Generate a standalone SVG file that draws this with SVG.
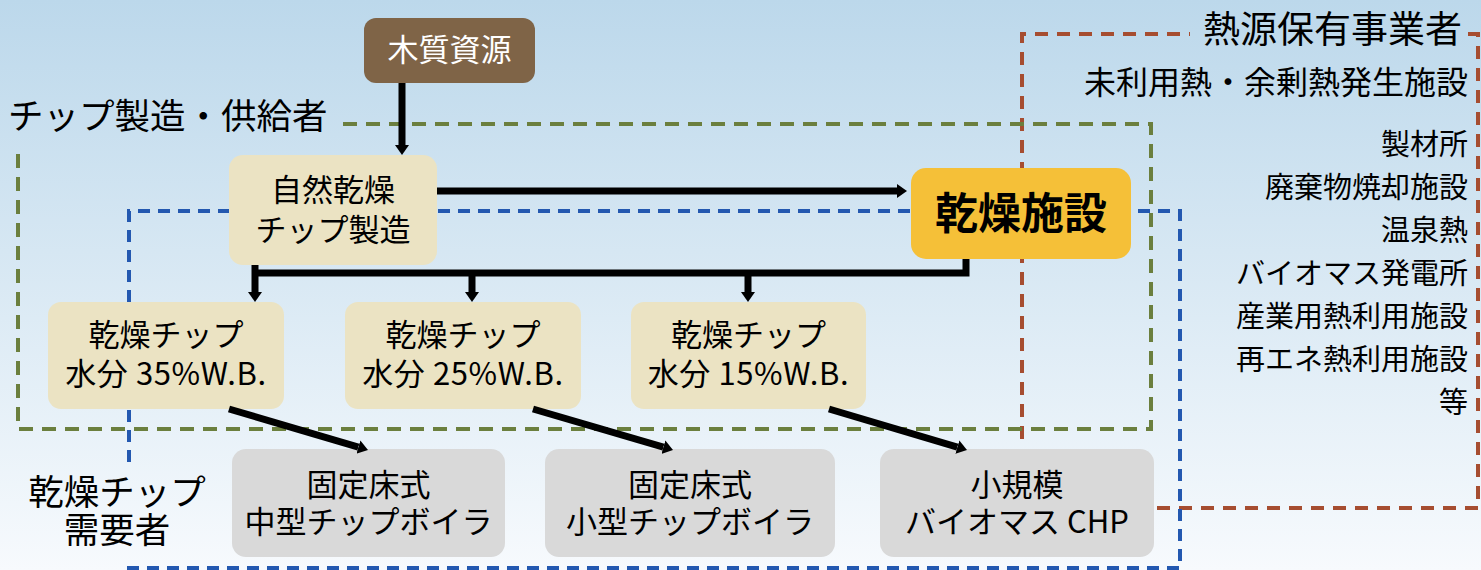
<svg xmlns="http://www.w3.org/2000/svg" width="1481" height="570" viewBox="0 0 1481 570">
<defs>
<linearGradient id="bg" x1="0" y1="0" x2="0" y2="1">
<stop offset="0" stop-color="#bcd8eb"/>
<stop offset="1" stop-color="#f7fafd"/>
</linearGradient>
<marker id="ah" viewBox="0 0 10 14" refX="0" refY="7" markerWidth="10" markerHeight="14" markerUnits="userSpaceOnUse" orient="auto">
<path d="M0,0 L10,7 L0,14 z" fill="#000"/>
</marker>
<style>
text{font-family:"Noto Sans CJK JP","Noto Sans",sans-serif;fill:#000}
.t30{font-size:31px;text-anchor:middle}
.wb{letter-spacing:0.6px}
.lab{font-size:35.5px}
.r{text-anchor:end}
.list{font-size:29px;text-anchor:end}
.beige{fill:#ebe3c3}
.gray{fill:#d9d9d9}
.conn{stroke:#000;stroke-width:7;fill:none}
.arr{marker-end:url(#ah)}
.dg{stroke:#6b7f3e;stroke-width:4;fill:none;stroke-dasharray:14 9}
.db{stroke:#2358b0;stroke-width:4;fill:none;stroke-dasharray:12 8}
.dr{stroke:#a64d30;stroke-width:4;fill:none;stroke-dasharray:13 9}
</style>
</defs>
<rect x="0" y="0" width="1481" height="570" fill="url(#bg)"/>

<g id="regions">
<path class="dr" d="M1022,439 V34 H1190"/>
<path class="dr" d="M1468,34 H1478 V508 H1155"/>
<path class="dg" d="M343,124 H1151 V429 H18 V150"/>
<path class="db" d="M129,462 V211 H1180 V568 H129 V558"/>
</g>

<g id="labels">
<text class="lab" x="8" y="129">チップ製造・供給者</text>
<text class="lab" x="117" y="505" text-anchor="middle">乾燥チップ</text>
<text class="lab" x="117" y="543" text-anchor="middle">需要者</text>
<text x="1462" y="43" class="r" font-size="37">熱源保有事業者</text>
<text x="1468" y="94" class="r" font-size="32">未利用熱・余剰熱発生施設</text>
<text class="list" x="1468" y="155">製材所</text>
<text class="list" x="1468" y="198">廃棄物焼却施設</text>
<text class="list" x="1468" y="241">温泉熱</text>
<text class="list" x="1468" y="284">バイオマス発電所</text>
<text class="list" x="1468" y="327">産業用熱利用施設</text>
<text class="list" x="1468" y="370">再エネ熱利用施設</text>
<text class="list" x="1468" y="413">等</text>
</g>

<g id="n-wood">
<rect x="364" y="18" width="171" height="65" rx="12" fill="#7f6447"/>
<text class="t30" x="449.5" y="61" style="fill:#fff">木質資源</text>
</g>
<g id="n-natural">
<rect class="beige" x="229" y="155" width="208" height="110" rx="14"/>
<text class="t30" x="333" y="201" font-size="32">自然乾燥</text>
<text class="t30" x="333" y="241">チップ製造</text>
</g>
<g id="n-dryer">
<rect x="911" y="168" width="220" height="91" rx="15" fill="#f5c038"/>
<text x="1021" y="229" font-size="43" font-weight="700" text-anchor="middle">乾燥施設</text>
</g>
<g id="n-chip35">
<rect class="beige" x="48" y="302" width="236" height="107" rx="13"/>
<text class="t30" x="166" y="346">乾燥チップ</text>
<text class="t30 wb" x="166" y="385">水分 35%W.B.</text>
</g>
<g id="n-chip25">
<rect class="beige" x="345" y="302" width="236" height="107" rx="13"/>
<text class="t30" x="463" y="346">乾燥チップ</text>
<text class="t30 wb" x="463" y="385">水分 25%W.B.</text>
</g>
<g id="n-chip15">
<rect class="beige" x="631" y="302" width="235" height="107" rx="13"/>
<text class="t30" x="748.5" y="346">乾燥チップ</text>
<text class="t30 wb" x="748.5" y="385">水分 15%W.B.</text>
</g>
<g id="n-boiler-mid">
<rect class="gray" x="232" y="449" width="273" height="108" rx="14"/>
<text class="t30" x="368.5" y="496">固定床式</text>
<text class="t30" x="368.5" y="533">中型チップボイラ</text>
</g>
<g id="n-boiler-small">
<rect class="gray" x="545" y="449" width="290" height="108" rx="14"/>
<text class="t30" x="690" y="496">固定床式</text>
<text class="t30" x="690" y="533">小型チップボイラ</text>
</g>
<g id="n-chp">
<rect class="gray" x="880" y="449" width="274" height="108" rx="14"/>
<text class="t30" x="1017" y="496">小規模</text>
<text class="t30" x="1017" y="533">バイオマス CHP</text>
</g>

<g id="connectors">
<line class="conn arr" x1="402" y1="83" x2="402" y2="145"/>
<line class="conn arr" x1="437" y1="191" x2="897" y2="191"/>
<path class="conn" d="M966,259 V273 H255"/>
<line class="conn arr" x1="255" y1="265" x2="255" y2="292"/>
<line class="conn arr" x1="472" y1="273" x2="472" y2="292"/>
<line class="conn arr" x1="748" y1="273" x2="748" y2="292"/>
<line class="conn arr" x1="229" y1="409" x2="358.4" y2="447.1"/>
<line class="conn arr" x1="533" y1="409" x2="663.4" y2="447.1"/>
<line class="conn arr" x1="829" y1="409" x2="957.4" y2="447.1"/>
</g>
</svg>
